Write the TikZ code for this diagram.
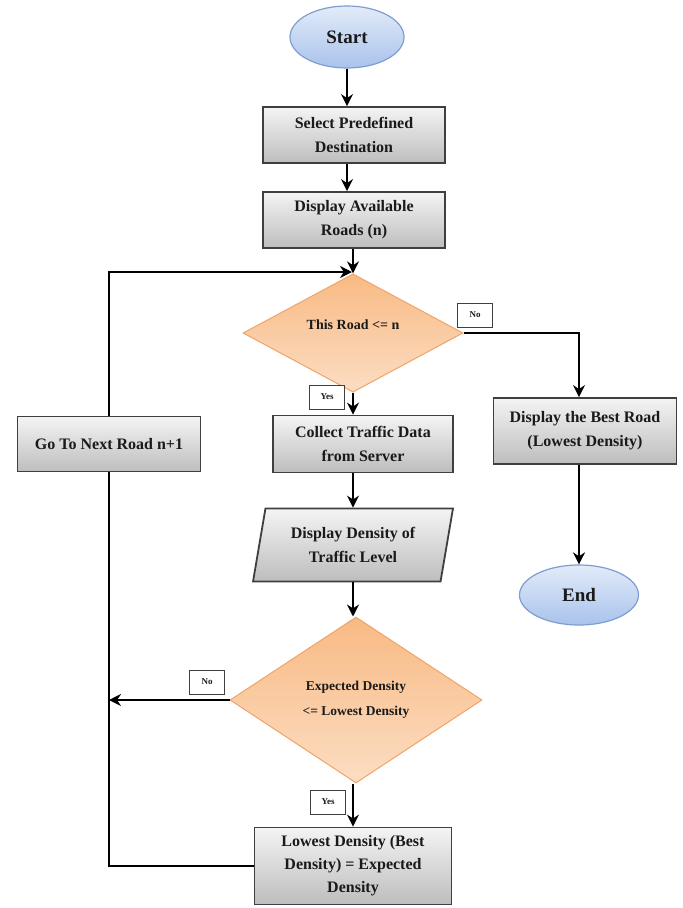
\documentclass[tikz,border=0pt]{standalone}
\usepackage{fontspec}
\setmainfont{Liberation Serif}
\usetikzlibrary{shapes.geometric,arrows.meta}
\definecolor{boxedge}{HTML}{3F3F3F}
\definecolor{boxtop}{HTML}{F4F4F4}
\definecolor{boxbot}{HTML}{BDBDBD}
\definecolor{dtop}{HTML}{F8BA84}
\definecolor{dbot}{HTML}{FCDDC2}
\definecolor{dedge}{HTML}{EFA46A}
\definecolor{etop}{HTML}{E2EBF8}
\definecolor{ebot}{HTML}{A9C3EC}
\definecolor{eedge}{HTML}{7F9DD0}
\definecolor{txt}{HTML}{1A1A1A}
\tikzset{
  procbox/.style={draw=boxedge, line width=1.8pt, top color=boxtop, bottom color=boxbot,
    align=center, text=txt, font=\fontsize{16}{24}\selectfont\bfseries, inner sep=2pt},
  termnode/.style={ellipse, draw=eedge, line width=1.2pt, top color=etop, bottom color=ebot,
    text=txt, font=\fontsize{19}{22}\selectfont\bfseries, inner sep=0pt},
  decnode/.style={diamond, draw=dedge, line width=1pt, top color=dtop, bottom color=dbot,
    align=center, text=txt, inner sep=0pt},
  iobox/.style={trapezium, trapezium left angle=76, trapezium right angle=104,
    trapezium stretches=true, draw=boxedge, line width=1.8pt, top color=boxtop, bottom color=boxbot,
    align=center, text=txt, font=\fontsize{16}{24}\selectfont\bfseries, inner sep=0pt},
  tagbox/.style={draw=boxedge, line width=1pt, fill=white, text=txt,
    font=\fontsize{9}{10}\selectfont\bfseries, minimum width=35pt, minimum height=24pt, inner sep=0pt},
  conn/.style={line width=2.8pt, black},
  arr/.style={conn, -{Stealth[length=12pt,width=12pt]}}
}
\begin{document}
\begin{tikzpicture}[x=1pt,y=-1pt]
\useasboundingbox (0,0) rectangle (683,908);
\fill[white] (0,0) rectangle (683,908);

\node[termnode, minimum width=114pt, minimum height=62pt] (start) at (347,37) {Start};
\node[procbox, minimum width=182pt, minimum height=56pt] (sel) at (354,135) {Select Predefined\\Destination};
\node[procbox, minimum width=182pt, minimum height=56pt] (disp) at (354,220) {Display Available\\Roads (n)};
\node[decnode, minimum width=220pt, minimum height=92pt, font=\fontsize{14}{16}\selectfont\bfseries] (d1) at (353,333) {\raisebox{16pt}{This Road <= n}};
\node[procbox, minimum width=180pt, minimum height=57pt] (coll) at (363,444) {Collect Traffic Data\\from Server};
\node[procbox, minimum width=183pt, minimum height=55pt] (next) at (109,444) {Go To Next Road n+1};
\node[procbox, minimum width=183pt, minimum height=66pt] (best) at (585,431) {Display the Best Road\\(Lowest Density)};
\node[termnode, minimum width=119pt, minimum height=60pt] (end) at (579,595) {End};
\node[iobox, minimum width=200pt, minimum height=73pt] (par) at (353,545) {Display Density of\\Traffic Level};
\node[decnode, minimum width=252pt, minimum height=166pt, font=\fontsize{13.5}{25}\selectfont\bfseries] (d2) at (356,700) {Expected Density\\<= Lowest Density};
\node[procbox, minimum width=197pt, minimum height=77pt, font=\fontsize{16}{23}\selectfont\bfseries] (low) at (353,866) {Lowest Density (Best\\Density) = Expected\\Density};

\node[tagbox] (no1) at (475,315) {No};
\node[tagbox] (yes1) at (327,397) {Yes};
\node[tagbox] (no2) at (207,682) {No};
\node[tagbox] (yes2) at (328,802) {Yes};

\coordinate (loopjoin) at (352,272);

\draw[arr] (start.south) -- (start.south |- sel.north);
\draw[arr] (start.south |- sel.south) -- (start.south |- disp.north);
\draw[arr] (d1.north |- disp.south) -- (d1.north);
\draw[arr] (next.north) |- (loopjoin);
\draw[arr] (d1.east) -| ([xshift=-6pt]best.north);
\draw[arr] (d1.south) -- (d1.south |- coll.north);
\draw[arr] (d1.south |- coll.south) -- (par.center |- par.north);
\draw[arr] (par.center |- par.south) -- (par.center |- d2.north);
\draw[arr] (par.center |- d2.south) -- (par.center |- low.north);
\draw[arr] (d2.west) -- (next.south |- d2.west);
\draw[conn] (low.west) -| (next.south);
\draw[arr] ([xshift=-6pt]best.south) -- (end.north);
\end{tikzpicture}
\end{document}
